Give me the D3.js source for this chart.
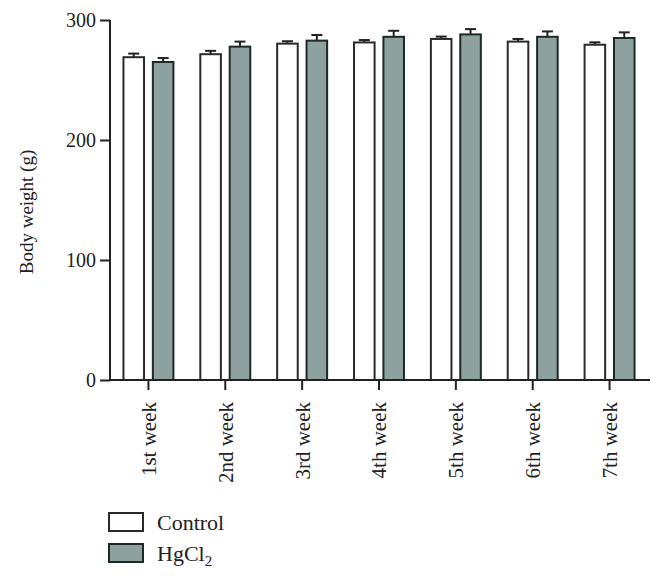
<!DOCTYPE html>
<html>
<head>
<meta charset="utf-8">
<script src="https://cdn.jsdelivr.net/npm/d3@7"></script>
<style>
html,body{margin:0;padding:0;background:#fff;}
svg{display:block;font-family:"Liberation Serif","DejaVu Serif",serif;}
</style>
</head>
<body>
<svg id="chart" width="664" height="579"></svg>
<script>
const categories = ["1st week","2nd week","3rd week","4th week","5th week","6th week","7th week"];
const seriesNames = ["Control","HgCl2"];
const controlValues = [269, 271.5, 280.3, 281.3, 284.2, 282, 279.4];
const controlErrors = [3, 2.8, 2, 2, 2, 2.2, 2];
const hgValues = [265, 277.8, 282.8, 286, 288, 286, 285];
const hgErrors = [3.3, 4.2, 4.7, 5, 4.4, 4.5, 4.7];
const yTicks = [0, 100, 200, 300];

const fills = {Control: "#ffffff", HgCl2: "#8da19e"};
const strokes = {Control: "#2a2a2a", HgCl2: "#1c2927"};

const svg = d3.select("#chart");
const y = d3.scaleLinear().domain([0, 300]).range([380, 20]);
const x0 = d3.scaleBand().domain(categories).range([110, 648]).paddingInner(0.35).paddingOuter(0.175);
const x1 = d3.scaleBand().domain(seriesNames).range([0, x0.bandwidth()]).paddingInner(0.3);

const data = categories.map((c, i) => ({
  cat: c,
  vals: [
    {s: "Control", v: controlValues[i], e: controlErrors[i]},
    {s: "HgCl2", v: hgValues[i], e: hgErrors[i]}
  ]
}));

const groups = svg.append("g").selectAll("g").data(data).join("g")
  .attr("transform", d => `translate(${x0(d.cat)},0)`);

groups.selectAll("line.err").data(d => d.vals).join("line")
  .attr("class", "err")
  .attr("x1", d => x1(d.s) + x1.bandwidth() / 2)
  .attr("x2", d => x1(d.s) + x1.bandwidth() / 2)
  .attr("y1", d => y(d.v))
  .attr("y2", d => y(d.v + d.e))
  .attr("stroke", "#222").attr("stroke-width", 2);

groups.selectAll("line.cap").data(d => d.vals).join("line")
  .attr("class", "cap")
  .attr("x1", d => x1(d.s) + x1.bandwidth() / 2 - 5.5)
  .attr("x2", d => x1(d.s) + x1.bandwidth() / 2 + 5.5)
  .attr("y1", d => y(d.v + d.e))
  .attr("y2", d => y(d.v + d.e))
  .attr("stroke", "#222").attr("stroke-width", 2);

groups.selectAll("rect").data(d => d.vals).join("rect")
  .attr("x", d => x1(d.s))
  .attr("width", x1.bandwidth())
  .attr("y", d => y(d.v))
  .attr("height", d => y(0) - y(d.v))
  .attr("fill", d => fills[d.s])
  .attr("stroke", d => strokes[d.s])
  .attr("stroke-width", 2);

// y axis
const yAxis = d3.axisLeft(y).tickValues(yTicks).tickSize(10).tickPadding(4);
const gy = svg.append("g").attr("transform", "translate(110,0)").call(yAxis);
gy.select(".domain").attr("d", "M0,20V380").attr("stroke", "#222").attr("stroke-width", 2);
gy.selectAll(".tick line").attr("stroke", "#222").attr("stroke-width", 2);
gy.selectAll(".tick text").attr("font-size", 20).attr("fill", "#222")
  .attr("font-family", "Liberation Serif, serif");

// x axis
const xAxis = d3.axisBottom(x0).tickSize(10).tickPadding(4);
const gx = svg.append("g").attr("transform", "translate(0,380)").call(xAxis);
gx.select(".domain").attr("d", "M110,0H650").attr("stroke", "#222").attr("stroke-width", 2);
gx.selectAll(".tick line").attr("stroke", "#222").attr("stroke-width", 2);
gx.selectAll(".tick text")
  .attr("font-size", 21).attr("fill", "#222")
  .attr("font-family", "Liberation Serif, serif")
  .attr("transform", "rotate(-90)")
  .attr("text-anchor", "end")
  .attr("dy", "0.35em")
  .attr("x", -22)
  .attr("y", 0);

// y label
svg.append("text")
  .attr("transform", "translate(33,212) rotate(-90)")
  .attr("text-anchor", "middle")
  .attr("font-size", 19)
  .attr("fill", "#222")
  .text("Body weight (g)");

// legend
const legend = svg.append("g");
const legendItems = [
  {s: "Control", label: "Control", y: 513},
  {s: "HgCl2", label: "HgCl", sub: "2", y: 544}
];
legendItems.forEach(it => {
  legend.append("rect")
    .attr("x", 109).attr("y", it.y)
    .attr("width", 34).attr("height", 18)
    .attr("fill", fills[it.s]).attr("stroke", strokes[it.s]).attr("stroke-width", 2);
  const t = legend.append("text")
    .attr("x", 157).attr("y", it.y + 17)
    .attr("font-size", 22).attr("fill", "#222");
  t.append("tspan").text(it.label);
  if (it.sub) t.append("tspan").attr("font-size", 15).attr("dy", 5).text(it.sub);
});
</script>
</body>
</html>
